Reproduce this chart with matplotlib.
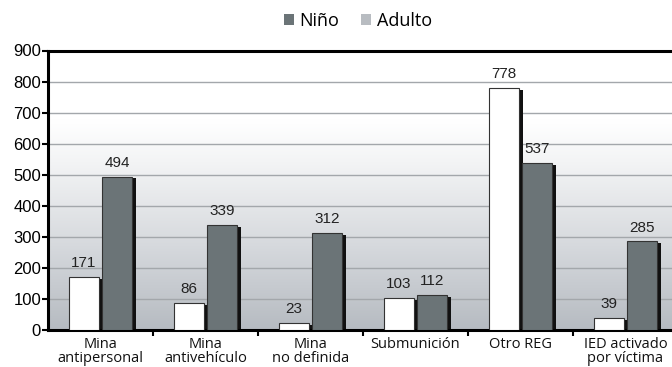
import matplotlib
matplotlib.use("Agg")
import matplotlib.pyplot as plt
import numpy as np
from matplotlib.patches import Patch
from matplotlib.colors import LinearSegmentedColormap

categories = ["Mina\nantipersonal", "Mina\nantivehículo", "Mina\nno definida",
              "Submunición", "Otro REG", "IED activado\npor víctima"]
adulto = [171, 86, 23, 103, 778, 39]
nino = [494, 339, 312, 112, 537, 285]
legend_labels = ["Niño", "Adulto"]
yticks = [0, 100, 200, 300, 400, 500, 600, 700, 800, 900]

W, H = 672, 367
fig = plt.figure(figsize=(W / 100, H / 100), dpi=100)
left, right, bottom, top = 48, 678, 330, 50.5
ax = fig.add_axes([left / W, 1 - bottom / H, (right - left) / W, (bottom - top) / H])

ax.set_xlim(-0.5, 5.5)
ax.set_ylim(0, 900)

# vertical gradient background: white on top, soft grey at the base
cmap = LinearSegmentedColormap.from_list(
    "bg", [(0.0, "#b6bbc1"), (0.3, "#d6d9dd"), (0.6, "#f3f4f5"), (0.75, "#ffffff"), (1.0, "#ffffff")])
grad = np.linspace(0, 1, 256).reshape(-1, 1)
ax.imshow(grad, cmap=cmap, aspect="auto", origin="lower",
          extent=[-0.5, 5.5, 0, 900], zorder=0)

for y in yticks[1:-1]:
    ax.axhline(y, color="#a3a7ab", lw=1.0, zorder=1)

x = np.arange(len(categories))
bw = 0.285
off = 0.158
shift = 0.035

# drop shadows
ax.bar(x - off + shift, np.array(adulto) - 6, bw, color="#111111", zorder=2)
ax.bar(x + off + shift, np.array(nino) - 6, bw, color="#111111", zorder=2)
# bars
ax.bar(x - off, adulto, bw, color="white", edgecolor="#333333", lw=0.8, zorder=3)
ax.bar(x + off, nino, bw, color="#6b7477", edgecolor="#333333", lw=0.8, zorder=3)

vfont = dict(family="Liberation Sans", fontsize=11, color="#222222")
for xi, v in zip(x - off, adulto):
    ax.annotate(str(v), (xi, v), xytext=(0, 5), textcoords="offset points",
                ha="center", va="bottom", **vfont)
for xi, v in zip(x + off, nino):
    ax.annotate(str(v), (xi, v), xytext=(0, 5), textcoords="offset points",
                ha="center", va="bottom", **vfont)

ax.set_yticks(yticks)
ax.set_yticklabels([str(t) for t in yticks], family="Liberation Sans", fontsize=12)
ax.tick_params(axis="y", length=4, width=1.5, pad=1, color="black")

ax.set_xticks(np.arange(0.5, 5.5, 1.0))
ax.set_xticklabels([])
ax.tick_params(axis="x", length=4, width=1.5, color="black")
for xi, lab in zip(x, categories):
    ax.text(xi, -22, lab, ha="center", va="top", family="Open Sans",
            fontsize=10.5, linespacing=0.95, color="#111111", clip_on=False)

for s in ["left", "bottom", "top"]:
    ax.spines[s].set_linewidth(2.2)
    ax.spines[s].set_color("black")
ax.spines["right"].set_visible(False)

handles = [Patch(facecolor="#6b7477", edgecolor="none"),
           Patch(facecolor="#b8bcc1", edgecolor="none")]
fig.legend(handles, legend_labels, loc="center", bbox_to_anchor=(358 / W, 1 - 21 / H),
           ncol=2, frameon=False, prop=dict(family="Open Sans", size=13),
           handlelength=0.55, handleheight=0.55, handletextpad=0.3, columnspacing=1.2)

fig.savefig("out.png", dpi=100)
